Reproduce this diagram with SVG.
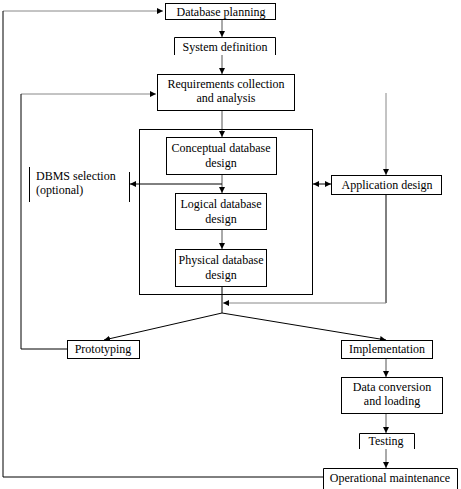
<svg xmlns="http://www.w3.org/2000/svg" width="461" height="489" viewBox="0 0 461 489">
<defs>
<marker id="ah" viewBox="0 0 10 10" refX="10" refY="5" markerWidth="6" markerHeight="6" markerUnits="userSpaceOnUse" orient="auto-start-reverse">
<path d="M0,0 L10,5 L0,10 z" fill="#000"/>
</marker>
<style>
.b{fill:#fff;stroke:#000;stroke-width:1}
.o{fill:none;stroke:#000;stroke-width:1}
.t{font-family:"Liberation Serif","Times New Roman",serif;font-size:12px;fill:#000}
.m{text-anchor:middle}
.c{fill:none;stroke:#000;stroke-width:1}
.g{fill:none;stroke:#888;stroke-width:1}
.d{fill:none;stroke:#555;stroke-width:1}
</style>
</defs>
<rect width="461" height="489" fill="#fff"/>
<g id="connectors">
<polyline class="g" points="3,11 163,11" marker-end="url(#ah)"/>
<polyline class="c" points="3,11 3,477 323,477"/>
<line class="d" x1="222" y1="19" x2="222" y2="37" marker-end="url(#ah)"/>
<line class="d" x1="222" y1="55" x2="222" y2="74" marker-end="url(#ah)"/>
<polyline class="g" points="21,94 156,94" marker-end="url(#ah)"/>
<polyline class="c" points="67,349 21,349 21,94"/>
<line class="d" x1="222" y1="111" x2="222" y2="137" marker-end="url(#ah)"/>
<line class="d" x1="222" y1="175" x2="222" y2="193" marker-end="url(#ah)"/>
<line class="c" x1="222" y1="184" x2="130" y2="184" marker-end="url(#ah)"/>
<line class="d" x1="222" y1="230" x2="222" y2="249" marker-end="url(#ah)"/>
<line class="c" x1="313" y1="184" x2="331" y2="184" marker-start="url(#ah)" marker-end="url(#ah)"/>
<line class="g" x1="386" y1="93" x2="386" y2="175" marker-end="url(#ah)"/>
<line class="c" x1="386" y1="195" x2="386" y2="303"/>
<line class="g" x1="386" y1="303" x2="223" y2="303" marker-end="url(#ah)"/>
<line class="c" x1="222" y1="287" x2="222" y2="313"/>
<line class="c" x1="222" y1="313" x2="104" y2="340" marker-end="url(#ah)"/>
<line class="c" x1="222" y1="313" x2="386" y2="340" marker-end="url(#ah)"/>
<line class="d" x1="386" y1="358" x2="386" y2="377" marker-end="url(#ah)"/>
<line class="d" x1="386" y1="413" x2="386" y2="433" marker-end="url(#ah)"/>
<line class="d" x1="386" y1="449" x2="386" y2="468" marker-end="url(#ah)"/>
</g>
<g id="db-planning">
<rect class="b" x="165.5" y="3.5" width="110" height="16"/>
<text class="t m" x="221" y="16">Database planning</text>
</g>
<g id="system-definition">
<path class="o" d="M174.5,55 V37.5 H275.5 V55"/>
<text class="t m" x="225" y="51">System definition</text>
</g>
<g id="requirements">
<rect class="b" x="157.5" y="74.5" width="137" height="36"/>
<text class="t m" x="226" y="88">Requirements collection</text>
<text class="t m" x="226" y="102">and analysis</text>
</g>
<g id="design-group">
<rect class="o" x="139.5" y="129.5" width="173" height="165"/>
</g>
<g id="conceptual">
<rect class="b" x="166.5" y="137.5" width="110" height="37"/>
<text class="t m" x="221" y="152">Conceptual database</text>
<text class="t m" x="221" y="167">design</text>
</g>
<g id="logical">
<rect class="b" x="175.5" y="193.5" width="91" height="36"/>
<text class="t m" x="221" y="208">Logical database</text>
<text class="t m" x="221" y="223">design</text>
</g>
<g id="physical">
<rect class="b" x="175.5" y="249.5" width="91" height="37"/>
<text class="t m" x="221" y="264">Physical database</text>
<text class="t m" x="221" y="279">design</text>
</g>
<g id="dbms-selection">
<line class="o" x1="29.5" y1="167" x2="29.5" y2="202"/>
<line class="o" x1="129.5" y1="172" x2="129.5" y2="202"/>
<text class="t" x="36" y="180">DBMS selection</text>
<text class="t" x="36" y="194">(optional)</text>
</g>
<g id="application-design">
<rect class="b" x="331.5" y="175.5" width="110" height="19"/>
<text class="t m" x="387" y="189">Application design</text>
</g>
<g id="prototyping">
<rect class="b" x="67.5" y="340.5" width="72" height="18"/>
<text class="t m" x="103" y="353">Prototyping</text>
</g>
<g id="implementation">
<rect class="b" x="341.5" y="340.5" width="91" height="18"/>
<text class="t m" x="387" y="353">Implementation</text>
</g>
<g id="data-conversion">
<rect class="b" x="341.5" y="377.5" width="101" height="36"/>
<text class="t m" x="392" y="391">Data conversion</text>
<text class="t m" x="392" y="405">and loading</text>
</g>
<g id="testing">
<path class="o" d="M359.5,449 V433.5 H414.5 V449"/>
<text class="t m" x="386" y="445">Testing</text>
</g>
<g id="operational-maintenance">
<path class="o" d="M323.5,489 V468.5 H457.5 V489"/>
<text class="t m" x="390" y="482">Operational maintenance</text>
</g>
</svg>
